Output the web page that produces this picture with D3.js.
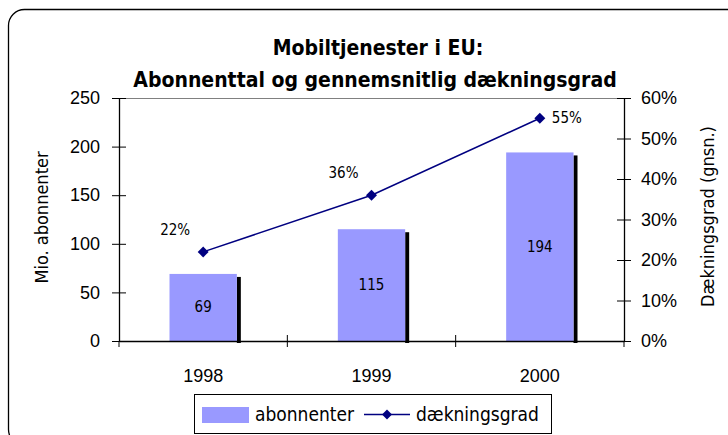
<!DOCTYPE html>
<html>
<head>
<meta charset="utf-8">
<script src="https://cdn.jsdelivr.net/npm/d3@7"></script>
<style>
  body { margin: 0; background: #fff; }
  svg { display: block; font-family: "Liberation Sans Narrow", "Arial Narrow", "DejaVu Sans Condensed", sans-serif; }
</style>
</head>
<body>
<svg id="chart"></svg>
<script>
const years = ["1998", "1999", "2000"];
const subscribers = [69, 115, 194];
const coverage = [0.22, 0.36, 0.55];
const leftTicks = [0, 50, 100, 150, 200, 250];
const rightTicks = [0, 0.1, 0.2, 0.3, 0.4, 0.5, 0.6];

const width = 728;
const height = 435;
const margin = { top: 98, right: 104, bottom: 94, left: 119 };
const innerW = width - margin.left - margin.right;
const innerH = height - margin.top - margin.bottom;

const svg = d3.select("#chart")
  .attr("width", width)
  .attr("height", height);

// outer frame (runs past the window on right and bottom)
svg.append("rect")
  .attr("x", 8.5).attr("y", 9.5)
  .attr("width", 735).attr("height", 436)
  .attr("rx", 16).attr("ry", 16)
  .attr("fill", "#fff")
  .attr("stroke", "#000")
  .attr("stroke-width", 1.3);

const title = svg.append("text")
  .attr("text-anchor", "middle")
  .attr("font-weight", "bold")
  .attr("font-size", 21)
  .attr("fill", "#000");
title.append("tspan").attr("x", 378).attr("y", 55).text("Mobiltjenester i EU:");
title.append("tspan").attr("x", 375).attr("y", 87).text("Abonnenttal og gennemsnitlig dækningsgrad");

const g = svg.append("g").attr("transform", `translate(${margin.left},${margin.top})`);

const x = d3.scaleBand().domain(years).range([0, innerW]);
const y = d3.scaleLinear().domain([0, 250]).range([innerH, 0]);
const y2 = d3.scaleLinear().domain([0, 0.6]).range([innerH, 0]);
const barW = x.bandwidth() * 0.4;
const cx = d => x(d) + x.bandwidth() / 2;

// top border of plot area
g.append("line")
  .attr("x1", 0).attr("x2", innerW)
  .attr("y1", 0.5).attr("y2", 0.5)
  .attr("stroke", "#808080");

// bars with a shadow strip on the right
const bars = g.selectAll(".bar").data(subscribers).enter().append("g");
bars.append("rect")
  .attr("x", (d, i) => cx(years[i]) + barW / 2)
  .attr("y", d => y(d) + 3)
  .attr("width", 4)
  .attr("height", d => innerH - y(d) - 1)
  .attr("fill", "#000");
bars.append("rect")
  .attr("x", (d, i) => cx(years[i]) - barW / 2)
  .attr("y", d => y(d))
  .attr("width", barW)
  .attr("height", d => innerH - y(d))
  .attr("fill", "#9999ff");
bars.append("text")
  .attr("x", (d, i) => cx(years[i]))
  .attr("y", d => (y(d) + innerH) / 2 + 5)
  .attr("text-anchor", "middle")
  .attr("font-size", 15)
  .attr("fill", "#000")
  .text(d => d);

// axes
const leftAxis = g.append("g")
  .call(d3.axisLeft(y).tickValues(leftTicks).tickSizeInner(7).tickSizeOuter(0).tickPadding(12));
leftAxis.selectAll(".tick line").attr("x1", 7);
leftAxis.select(".domain").attr("stroke", "#000").attr("stroke-width", 1.3);
leftAxis.selectAll("text").attr("font-size", 18).attr("font-family", "inherit").attr("fill", "#000");

const rightAxis = g.append("g")
  .attr("transform", `translate(${innerW},0)`)
  .call(d3.axisRight(y2).tickValues(rightTicks).tickFormat(d3.format(".0%")).tickSizeInner(7).tickSizeOuter(0).tickPadding(10));
rightAxis.selectAll(".tick line").attr("x1", -7);
rightAxis.select(".domain").attr("stroke", "#000").attr("stroke-width", 1.3);
rightAxis.selectAll("text").attr("font-size", 18).attr("font-family", "inherit").attr("fill", "#000");

const bottomAxis = g.append("g")
  .attr("transform", `translate(0,${innerH})`)
  .call(d3.axisBottom(x).tickSize(0).tickPadding(28));
bottomAxis.select(".domain").attr("stroke", "#000").attr("stroke-width", 1.3);
bottomAxis.selectAll("text").attr("font-size", 18).attr("font-family", "inherit").attr("fill", "#000");
// category boundary ticks
bottomAxis.selectAll(".sep")
  .data(years.slice(1))
  .enter().append("line")
  .attr("x1", d => x(d)).attr("x2", d => x(d))
  .attr("y1", -6).attr("y2", 6)
  .attr("stroke", "#000");
bottomAxis.selectAll(".edge")
  .data([0, innerW])
  .enter().append("line")
  .attr("x1", d => d).attr("x2", d => d)
  .attr("y1", 0).attr("y2", 6)
  .attr("stroke", "#000");

// coverage line
const line = d3.line().x((d, i) => cx(years[i])).y(d => y2(d));
g.append("path")
  .datum(coverage)
  .attr("d", line)
  .attr("fill", "none")
  .attr("stroke", "#000080")
  .attr("stroke-width", 1.5);

g.selectAll(".pt").data(coverage).enter().append("path")
  .attr("d", d3.symbol().type(d3.symbolSquare).size(60))
  .attr("transform", (d, i) => `translate(${cx(years[i])},${y2(d)}) rotate(45)`)
  .attr("fill", "#000080");

const last = coverage.length - 1;
g.selectAll(".pl").data(coverage).enter().append("text")
  .attr("x", (d, i) => i === last ? cx(years[i]) + 12 : cx(years[i]) - 28)
  .attr("y", (d, i) => i === last ? y2(d) + 5 : y2(d) - 17)
  .attr("text-anchor", (d, i) => i === last ? "start" : "middle")
  .attr("font-size", 15)
  .attr("fill", "#000")
  .text(d => d3.format(".0%")(d));

// axis titles
svg.append("text")
  .attr("transform", `translate(48,${margin.top + innerH / 2 - 2}) rotate(-90)`)
  .attr("text-anchor", "middle")
  .attr("font-size", 18)
  .attr("fill", "#000")
  .text("Mio. abonnenter");
svg.append("text")
  .attr("transform", `translate(714,${margin.top + innerH / 2 - 3}) rotate(-90)`)
  .attr("text-anchor", "middle")
  .attr("font-size", 18)
  .attr("fill", "#000")
  .text("Dækningsgrad (gnsn.)");

// legend
const legend = svg.append("g").attr("transform", "translate(194,394)");
legend.append("rect")
  .attr("x", 0.5).attr("y", 0.5)
  .attr("width", 357).attr("height", 39)
  .attr("fill", "#fff")
  .attr("stroke", "#000");
legend.append("rect")
  .attr("x", 8).attr("y", 13)
  .attr("width", 47).attr("height", 16)
  .attr("fill", "#9999ff");
legend.append("text")
  .attr("x", 61).attr("y", 27)
  .attr("font-size", 19)
  .attr("fill", "#000")
  .text("abonnenter");
legend.append("line")
  .attr("x1", 170).attr("x2", 216)
  .attr("y1", 20.5).attr("y2", 20.5)
  .attr("stroke", "#000080")
  .attr("stroke-width", 1.5);
legend.append("path")
  .attr("transform", "translate(193,20.5) rotate(45)")
  .attr("d", d3.symbol().type(d3.symbolSquare).size(50))
  .attr("fill", "#000080");
legend.append("text")
  .attr("x", 222).attr("y", 27)
  .attr("font-size", 19)
  .attr("fill", "#000")
  .text("dækningsgrad");
</script>
</body>
</html>
